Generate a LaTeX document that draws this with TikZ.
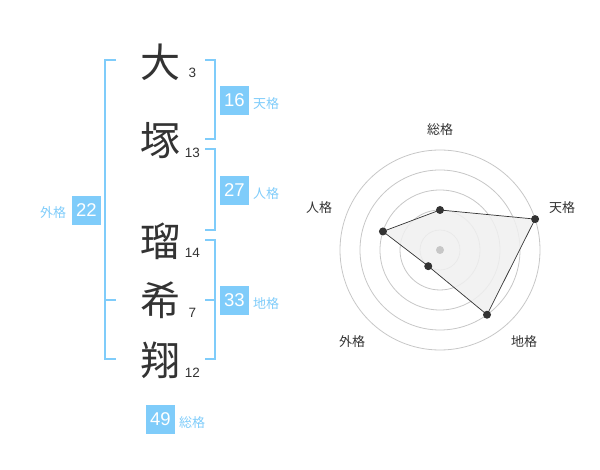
\documentclass[tikz,border=0pt]{standalone}
\usepackage{fontspec}
\setmainfont{Liberation Sans}
\newfontfamily\cjk{Noto Sans CJK JP}
\usetikzlibrary{positioning}
\definecolor{kakublue}{RGB}{127,204,250}
\definecolor{inkgray}{RGB}{51,51,51}
\begin{document}
\begin{tikzpicture}[x=1pt,y=-1pt,
  kanji/.style={font=\cjk\fontsize{40}{40}\selectfont,text=inkgray,inner sep=0pt},
  strokes/.style={font=\fontsize{13.5}{13.5}\selectfont,text=inkgray,inner sep=0pt},
  score/.style={fill=kakublue,text=white,font=\fontsize{18.5}{18.5}\selectfont,minimum width=29pt,minimum height=29pt,inner sep=0pt},
  kaku/.style={font=\cjk\fontsize{13}{13}\selectfont,text=kakublue,inner sep=0pt},
  bracket/.style={draw=kakublue,line width=2pt},
  ring/.style={draw=black!22,line width=0.8pt},
  axis/.style={font=\cjk\fontsize{13}{13}\selectfont,text=inkgray,inner sep=0pt},
  dot/.style={circle,fill=inkgray,inner sep=0pt,minimum size=8pt}]
  \useasboundingbox (0,0) rectangle (600,470);

  \node[kanji] (c1) at (160,62) {大};
  \node[kanji] (c2) at (160,140.5) {塚};
  \node[kanji] (c3) at (160,241) {瑠};
  \node[kanji] (c4) at (160,300.5) {希};
  \node[kanji] (c5) at (160,360.5) {翔};
  \node[strokes] (n1) at (192.5,73) {3};
  \node[strokes] (n2) at (192.5,153) {13};
  \node[strokes] (n3) at (192.5,253) {14};
  \node[strokes] (n4) at (192.5,313) {7};
  \node[strokes] (n5) at (192.5,373) {12};

  \draw[bracket] (116,60) -- (105,60) -- (105,359) -- (116,359);
  \draw[bracket] (105,300) -- (116,300);
  \draw[bracket] (205,60) -- (215,60) -- (215,139) -- (205,139);
  \draw[bracket] (205,149) -- (215,149) -- (215,230) -- (205,230);
  \draw[bracket] (205,240) -- (215,240) -- (215,359) -- (205,359);
  \draw[bracket] (205,300) -- (215,300);

  \node[score] (gai) at (86.5,210.5) {22};
  \node[score] (ten) at (234.5,100.5) {16};
  \node[score] (jin) at (234.5,190.5) {27};
  \node[score] (chi) at (234.5,300.5) {33};
  \node[score] (sou) at (160.5,419) {49};
  \node[kaku] (gail) at (53,213) {外格};
  \node[kaku] (tenl) at (266,104) {天格};
  \node[kaku] (jinl) at (266,194) {人格};
  \node[kaku] (chil) at (266,304) {地格};
  \node[kaku] (soul) at (192,423) {総格};

  \begin{scope}[shift={(440,250)},yscale=-1]
    \foreach \r in {20,40,60,80,100}
      \draw[ring] (0,0) circle[radius=\r];
    \coordinate (q1) at (90:40);
    \coordinate (q2) at (18:100);
    \coordinate (q3) at (-54:80);
    \coordinate (q4) at (-126:20);
    \coordinate (q5) at (162:60);
    \fill[black!6,fill opacity=0.85] (q1) -- (q2) -- (q3) -- (q4) -- (q5) -- cycle;
    \node[circle,fill=black!22,inner sep=0pt,minimum size=8pt] (mid) at (0,0) {};
    \draw[inkgray,line width=0.7pt] (q1) -- (q2) -- (q3) -- (q4) -- (q5) -- cycle;
    \node[dot] (p1) at (q1) {};
    \node[dot] (p2) at (q2) {};
    \node[dot] (p3) at (q3) {};
    \node[dot] (p4) at (q4) {};
    \node[dot] (p5) at (q5) {};
    \node[axis] (a1) at (0,120) {総格};
    \node[axis] (a2) at (122,42) {天格};
    \node[axis] (a3) at (84,-92) {地格};
    \node[axis] (a4) at (-88,-92) {外格};
    \node[axis] (a5) at (-121,42) {人格};
  \end{scope}
\end{tikzpicture}
\end{document}
